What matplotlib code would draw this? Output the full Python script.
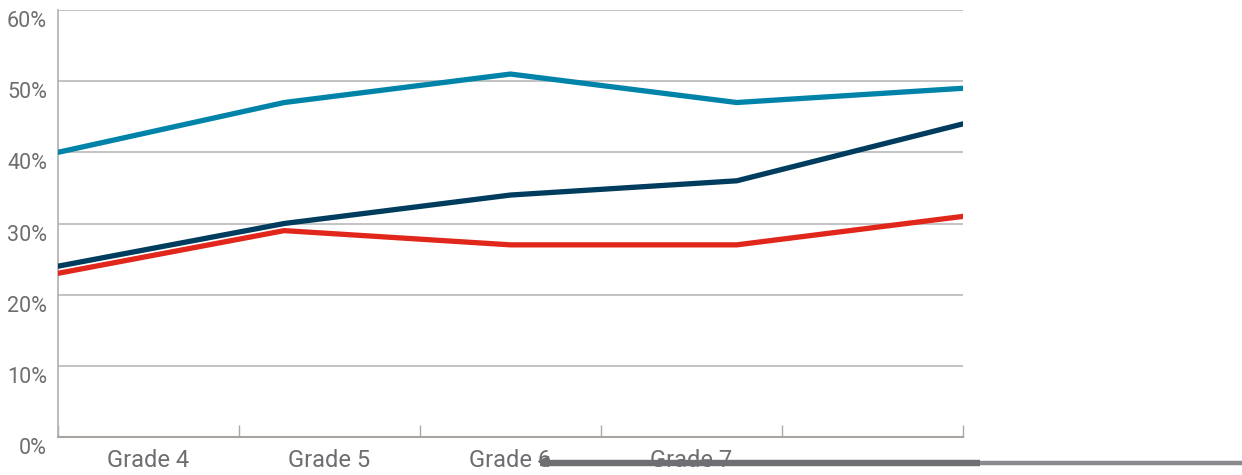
import numpy as np
import matplotlib
matplotlib.use('Agg')
import matplotlib.pyplot as plt
from matplotlib.lines import Line2D
import matplotlib.transforms as mtransforms

# values (percent)
grades = ['Grade 4', 'Grade 5', 'Grade 6', 'Grade 7']
points = [0, 1, 2, 3, 4]
teal = [40, 47, 51, 47, 49]
navy = [24, 30, 34, 36, 44]
red = [23, 29, 27, 27, 31]
yticks = [0, 10, 20, 30, 40, 50, 60]

grey = '#6d6e71'
fig = plt.figure(figsize=(12.42, 4.75), dpi=100)
ax = fig.add_axes([58/1242, 38/475, 905/1242, 427/475])

for vals, col in [(teal, '#0083a9'), (navy, '#003c5e'), (red, '#e1261c')]:
    ax.plot(points, vals, color=col, lw=3.8, solid_capstyle='round', solid_joinstyle='round', zorder=3)

ax.set_xlim(points[0], points[-1])
ax.set_ylim(0, 60)
ax.set_yticks(yticks)
ax.set_yticklabels([])
ax.tick_params(axis='y', length=0)
for v in yticks[1:]:
    ax.axhline(v, color='#b3b3b3', lw=1.1, zorder=1)

# y labels sit just under their gridline
ytrans = ax.get_yaxis_transform() + mtransforms.ScaledTranslation(-11/100, 0, fig.dpi_scale_trans)
for v in yticks:
    ax.text(0, v - 2.4, f'{v}%', transform=ytrans, ha='right', va='baseline',
            fontsize=15.5, family='Roboto', color=grey)

edges = np.linspace(points[0], points[-1], 6)
ax.set_xticks(edges)
ax.set_xticklabels([])
ax.tick_params(axis='x', direction='in', length=9, color='#a8a8a8', width=1)
centers = (edges[:-1] + edges[1:]) / 2
for c, g in zip(centers, grades):
    ax.text(c, -4.2, g, ha='center', va='baseline', fontsize=17, family='Roboto', color=grey)

for s in ['top', 'right']:
    ax.spines[s].set_visible(False)
ax.spines['left'].set_color('#b0b0b0')
ax.spines['bottom'].set_color('#a8a39e')
ax.spines['left'].set_linewidth(1.2)
ax.spines['bottom'].set_linewidth(1.5)

# scrollbar-like overlay at the bottom
yb = 1 - 463/475
fig.add_artist(Line2D([540/1242, 980/1242], [yb, yb], transform=fig.transFigure,
                      color='#6f6f73', lw=4.6, solid_capstyle='butt', zorder=10))
fig.add_artist(Line2D([980/1242, 1], [yb, yb], transform=fig.transFigure,
                      color='#8a8a8e', lw=3.2, solid_capstyle='butt', zorder=10))
fig.add_artist(Line2D([543/1242], [1 - 461/475], transform=fig.transFigure, marker='<',
                      ms=7, color='#6f6f73', zorder=11))

fig.savefig('out.png', dpi=100)
